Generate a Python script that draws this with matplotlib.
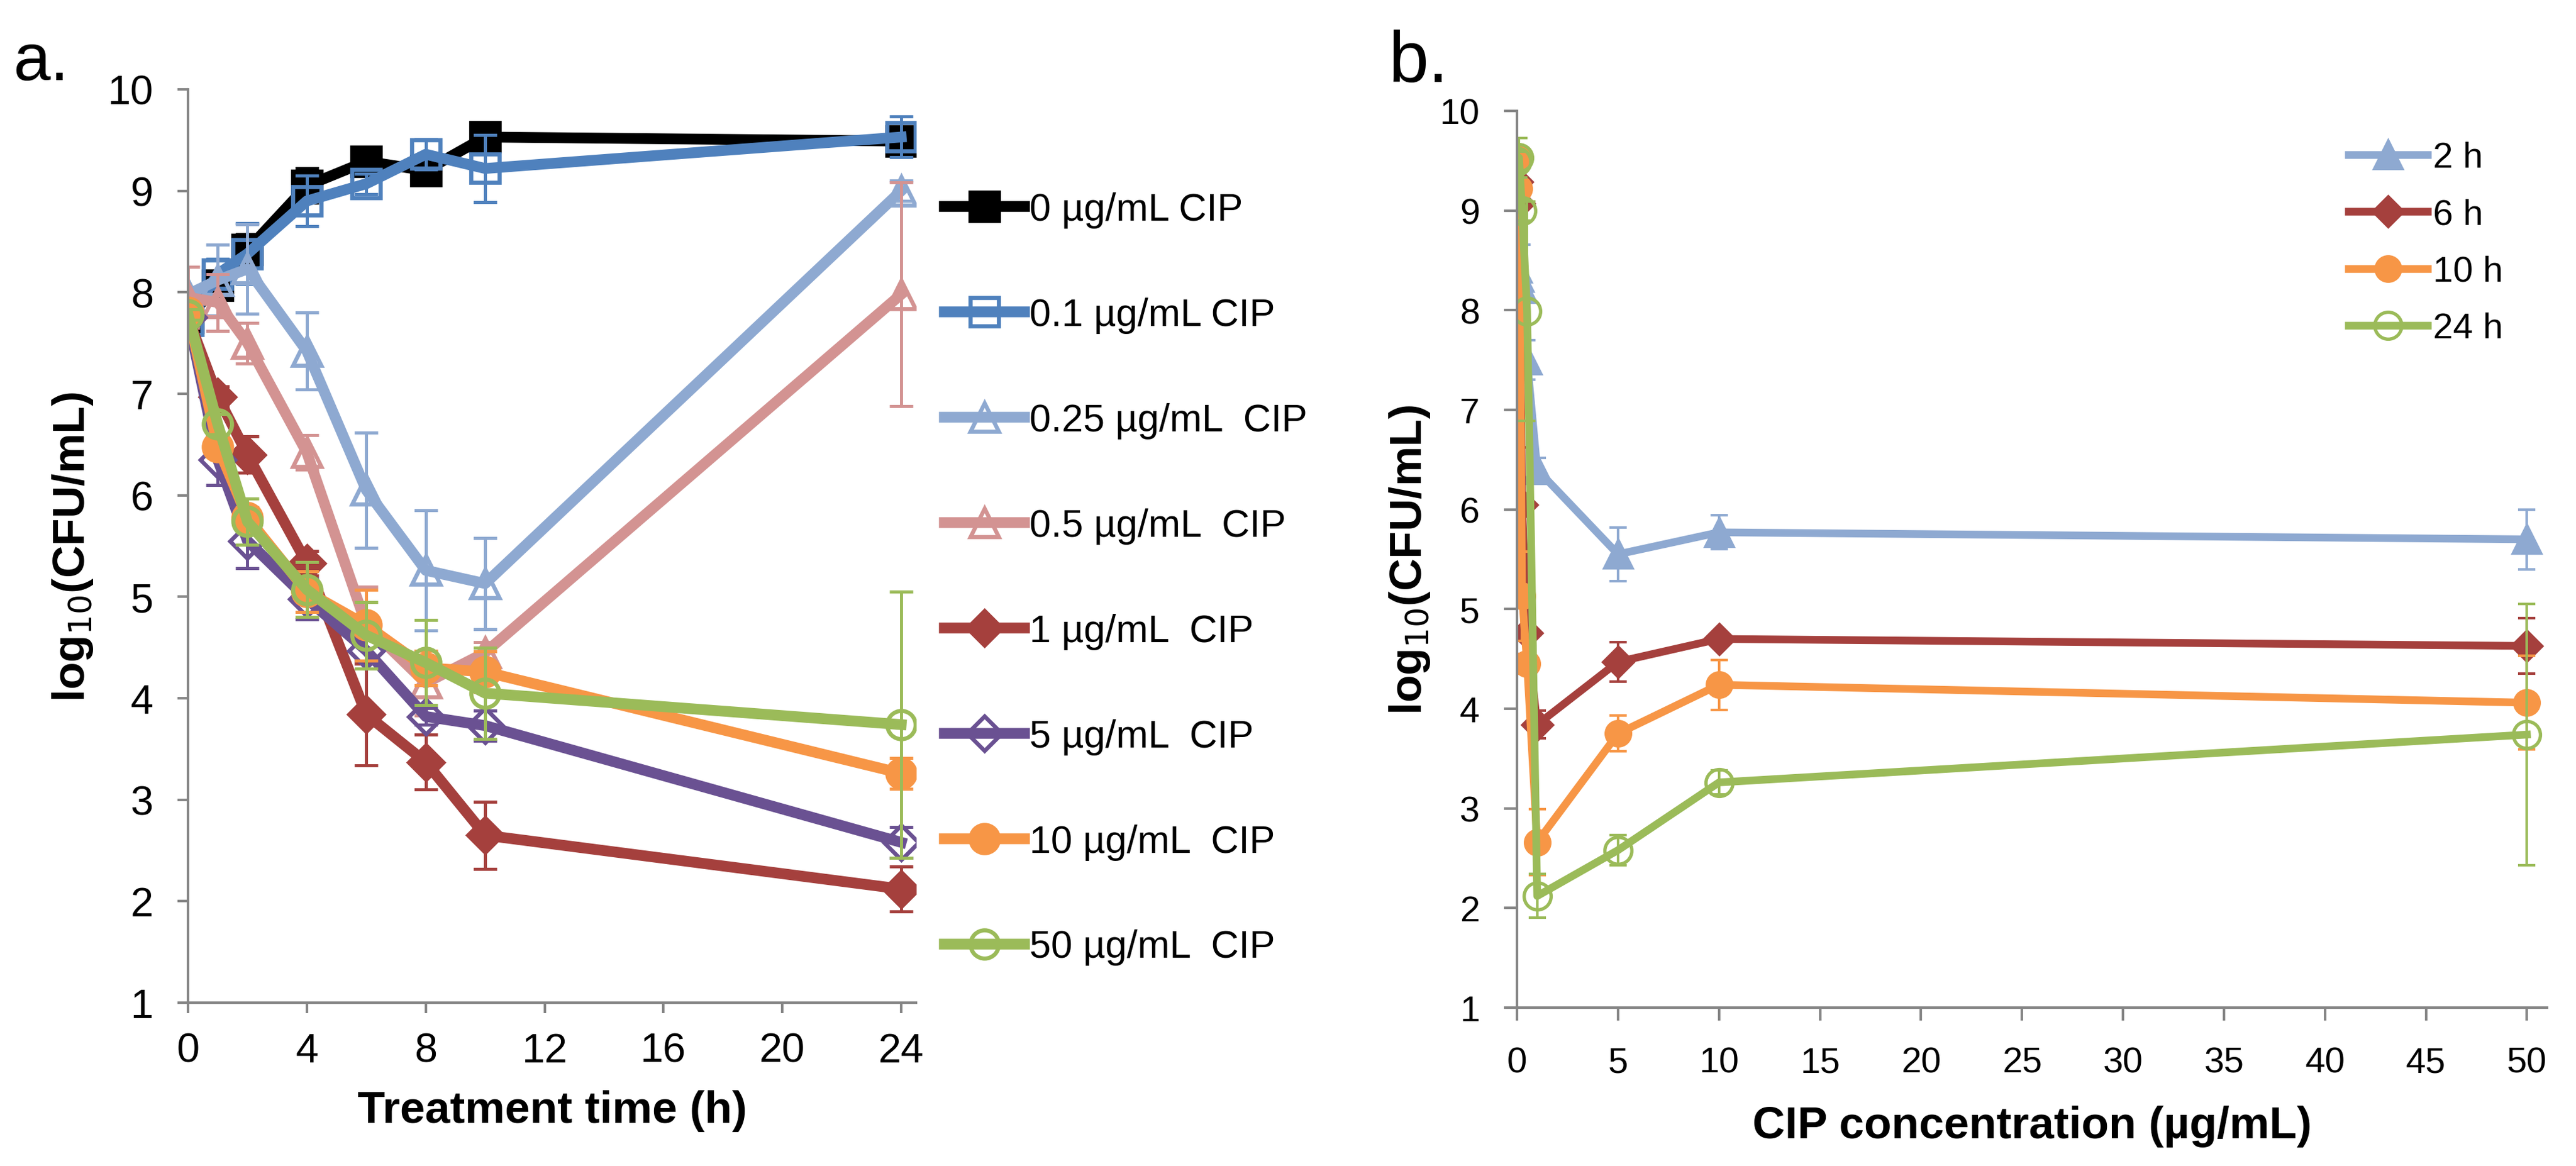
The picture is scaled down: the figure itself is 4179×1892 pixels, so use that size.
import matplotlib.pyplot as plt

plt.rcParams['font.family'] = ['Liberation Sans', 'DejaVu Sans']
NARROW = ['Liberation Sans Narrow', 'Liberation Sans', 'DejaVu Sans']

# panel a: time course for each CIP concentration
time_h = [0, 1, 2, 4, 6, 8, 10, 24]
cip_0 = [7.75, 8.07, 8.42, 9.05, 9.29, 9.2, 9.53, 9.49]
cip_0_err = [0.05, 0.1, 0.15, 0.17, 0.05, 0.05, 0.05, 0.1]
cip_01 = [7.72, 8.18, 8.38, 8.9, 9.07, 9.36, 9.22, 9.53]
cip_01_err = [0.05, 0.15, 0.3, 0.25, 0.1, 0.15, 0.33, 0.2]
cip_025 = [7.98, 8.12, 8.23, 7.42, 6.05, 5.26, 5.13, 9.0]
cip_025_err = [0.05, 0.35, 0.44, 0.38, 0.57, 0.59, 0.45, 0.1]
cip_05 = [7.95, 7.9, 7.5, 6.42, 4.72, 4.15, 4.45, 7.98]
cip_05_err = [0.3, 0.28, 0.2, 0.17, 0.38, 0.32, 0.1, 1.1]
cip_1 = [7.75, 6.97, 6.4, 5.33, 3.84, 3.37, 2.65, 2.12]
cip_1_err = [0.05, 0.1, 0.18, 0.12, 0.5, 0.27, 0.33, 0.22]
cip_5 = [7.75, 6.35, 5.55, 4.98, 4.47, 3.82, 3.73, 2.58]
cip_5_err = [0.05, 0.25, 0.27, 0.2, 0.1, 0.08, 0.15, 0.15]
cip_10 = [7.8, 6.48, 5.78, 5.05, 4.72, 4.3, 4.26, 3.26]
cip_10_err = [0.05, 0.1, 0.1, 0.2, 0.35, 0.17, 0.2, 0.15]
cip_50 = [7.78, 6.7, 5.74, 5.07, 4.62, 4.35, 4.05, 3.74]
cip_50_err = [0.05, 0.1, 0.23, 0.27, 0.33, 0.42, 0.45, 1.31]
labels_a = ['0 µg/mL CIP', '0.1 µg/mL CIP', '0.25 µg/mL  CIP', '0.5 µg/mL  CIP',
            '1 µg/mL  CIP', '5 µg/mL  CIP', '10 µg/mL  CIP', '50 µg/mL  CIP']

# panel b: dose response at each time point
conc = [0, 0.1, 0.25, 0.5, 1, 5, 10, 50]
h2 = [8.42, 8.33, 8.22, 7.5, 6.4, 5.55, 5.77, 5.7]
h2_err = [0.15, 0.3, 0.44, 0.2, 0.12, 0.27, 0.17, 0.3]
h6 = [9.29, 9.07, 6.05, 4.76, 3.84, 4.47, 4.7, 4.63]
h6_err = [0.05, 0.1, 0.57, 0.38, 0.14, 0.2, 0.03, 0.28]
h10 = [9.53, 9.22, 5.13, 4.45, 2.66, 3.75, 4.24, 4.06]
h10_err = [0.05, 0.33, 0.45, 0.1, 0.33, 0.18, 0.25, 0.47]
h24 = [9.49, 9.53, 9.0, 7.99, 2.12, 2.58, 3.26, 3.74]
h24_err = [0.1, 0.2, 0.1, 1.1, 0.22, 0.15, 0.12, 1.31]
labels_b = ['2 h', '6 h', '10 h', '24 h']

fig = plt.figure(figsize=(4179 / 300, 1893 / 300), dpi=300)
ax1 = fig.add_axes([0.0730, 0.1400, 0.2826, 0.7829])
ax2 = fig.add_axes([0.5889, 0.1358, 0.3999, 0.7686])

GRAY = '#868686'

# (values, errors, colour, marker, filled, size)
series_a = [
    (cip_0, cip_0_err, '#000000', 's', True, 11),
    (cip_01, cip_01_err, '#4F81BD', 's', False, 11),
    (cip_025, cip_025_err, '#8EA9D1', '^', False, 11),
    (cip_05, cip_05_err, '#D39392', '^', False, 11),
    (cip_1, cip_1_err, '#A5403D', 'D', True, 9.5),
    (cip_5, cip_5_err, '#6A5192', 'D', False, 9.5),
    (cip_10, cip_10_err, '#F79646', 'o', True, 11),
    (cip_50, cip_50_err, '#9BBB59', 'o', False, 11),
]
for (y, e, c, m, filled, ms), lab in zip(series_a, labels_a):
    ax1.errorbar(time_h, y, yerr=e, fmt='none', ecolor=c, elinewidth=1.2,
                 capsize=4.5, capthick=1.2)
    ax1.plot(time_h, y, color=c, lw=4.2, marker=m, ms=ms,
             mfc=c if filled else 'none', mec=c, mew=1.6, label=lab)

series_b = [
    (h2, h2_err, '#8EA9D1', '^', True, 10.5),
    (h6, h6_err, '#A5403D', 'D', True, 8),
    (h10, h10_err, '#F79646', 'o', True, 9.5),
    (h24, h24_err, '#9BBB59', 'o', False, 10.5),
]
for (y, e, c, m, filled, ms), lab in zip(series_b, labels_b):
    ax2.errorbar(conc, y, yerr=e, fmt='none', ecolor=c, elinewidth=1.0,
                 capsize=3.4, capthick=1.0)
    ax2.plot(conc, y, color=c, lw=3.0, marker=m, ms=ms,
             mfc=c if filled else 'none', mec=c, mew=1.3, label=lab)

for ax in (ax1, ax2):
    for s in ('top', 'right'):
        ax.spines[s].set_visible(False)
    for s in ('left', 'bottom'):
        ax.spines[s].set_color(GRAY)
        ax.spines[s].set_linewidth(1.0)
    ax.set_ylim(1, 10)
    ax.set_yticks(range(1, 11))

ax1.set_xlim(0, 24.5)
ax1.set_xticks([0, 4, 8, 12, 16, 20, 24])
ax1.tick_params(direction='out', length=4, width=1.0, color=GRAY)
ax1.tick_params(axis='x', pad=7.5)
ax1.tick_params(axis='y', pad=9.5)
for t in ax1.get_xticklabels() + ax1.get_yticklabels():
    t.set_family(NARROW)
    t.set_fontsize(16)
ax1.set_xlabel('Treatment time (h)', family=NARROW, fontsize=17.5,
               fontweight='bold', labelpad=7.5)
ax1.set_ylabel('log$_{10}$(CFU/mL)', fontsize=17.5, fontweight='bold', labelpad=5)

ax2.set_xlim(0, 51)
ax2.set_xticks(range(0, 51, 5))
ax2.tick_params(direction='out', length=5, width=1.0, color=GRAY, labelsize=14)
ax2.tick_params(axis='x', pad=10)
ax2.tick_params(axis='y', pad=9.5)
ax2.set_xlabel('CIP concentration (µg/mL)', fontsize=17.5, fontweight='bold',
               labelpad=10)
ax2.set_ylabel('log$_{10}$(CFU/mL)', fontsize=17.5, fontweight='bold', labelpad=3)

h, l = ax1.get_legend_handles_labels()
fig.legend(h, l, loc='upper left', bbox_to_anchor=(0.3666, 0.835),
           frameon=False, fontsize=15, labelspacing=1.79, handlelength=2.08,
           handletextpad=0.13, borderpad=0, borderaxespad=0)
h, l = ax2.get_legend_handles_labels()
fig.legend(h, l, loc='upper left', bbox_to_anchor=(0.9117, 0.8785),
           frameon=False, fontsize=14, labelspacing=0.66, handlelength=2.2,
           handletextpad=0.15, borderpad=0, borderaxespad=0)

fig.text(21 / 4179, 1 - 130 / 1893, 'a.', fontsize=26, va='baseline')
fig.text(2252 / 4179, 1 - 133 / 1893, 'b.', fontsize=28, va='baseline')

fig.savefig('out.png', dpi=300)
